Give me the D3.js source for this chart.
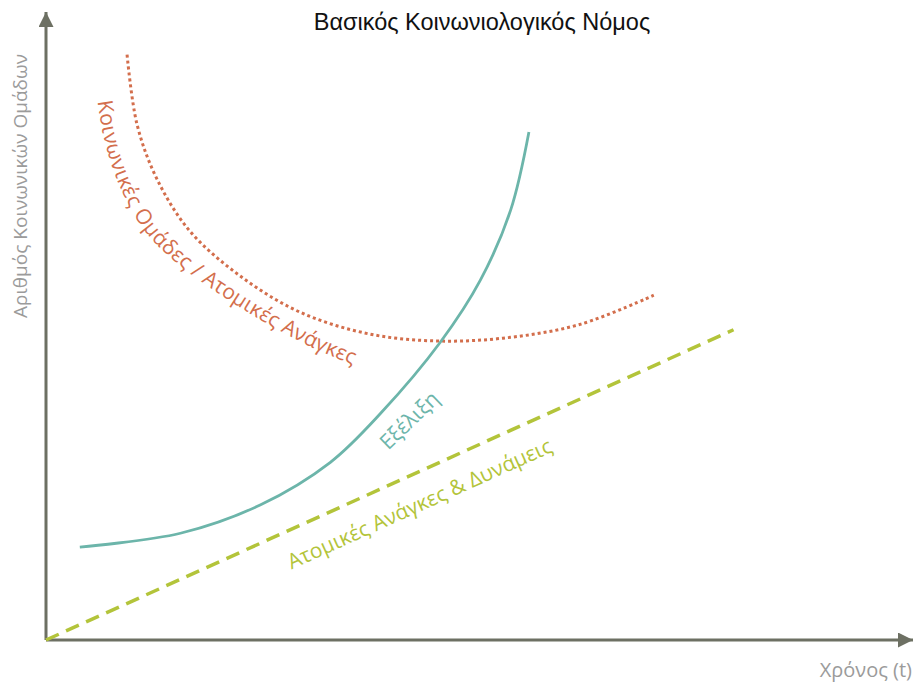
<!DOCTYPE html>
<html>
<head>
<meta charset="utf-8">
<script src="https://cdn.jsdelivr.net/npm/d3@7"></script>
<style>
  body { margin: 0; background: #fff; }
  svg { display: block; }
  .lbl { font-family: "Open Sans", sans-serif; }
</style>
</head>
<body>
<div id="chart"></div>
<script>
// ---------------------------------------------
// DATA (arbitrary units, axes run 0..100)
// ---------------------------------------------
var titleText = "Βασικός Κοινωνιολογικός Νόμος";
var xAxisLabel = "Χρόνος (t)";
var yAxisLabel = "Αριθμός Κοινωνικών Ομάδων";

// social groups / individual needs (dotted)
var groupsLabel = "Κοινωνικές Ομάδες / Ατομικές Ανάγκες";
var groupsCurve = [
  [9.35, 93.2], [10.5, 82.1], [12.8, 73.4], [16.6, 65.1], [22.4, 57.96],
  [29.3, 52.2], [37.4, 48.7], [45.5, 47.6], [53.6, 48.2], [61.7, 50.3], [70.1, 54.9]
];
// where the label runs along the dotted curve
var groupsLabelPath = [
  [6.7, 86.8], [7.6, 79.6], [9.35, 72.5], [12.2, 65.6], [16.3, 60.2],
  [21.2, 55.4], [26.4, 51.0], [31.6, 47.3], [36.3, 44.6]
];

// evolution (solid)
var evolutionLabel = "Εξέλιξη";
var evolutionCurve = [
  [3.9, 14.8], [15.5, 17.0], [24.7, 21.5], [32.8, 28.3], [38.6, 36.1],
  [45.5, 47.45], [50.1, 57.3], [53.6, 68.5], [55.7, 80.9]
];
var evolutionLabelPos = [41.9, 35.0];

// individual needs & powers (dashed)
var needsLabel = "Ατομικές Ανάγκες & Δυνάμεις";
var needsLine = [[0, 0], [79.3, 49.4]];
var needsLabelPos = [43.1, 21.7];

// ---------------------------------------------
// SETUP
// ---------------------------------------------
var width = 915, height = 682;
var colors = {axis: "#6d7063", text: "#9b9b9b", groups: "#d36e4c", evolution: "#6cb5aa", needs: "#b3c43a"};

var svg = d3.select("#chart").append("svg")
    .attr("width", width)
    .attr("height", height);

var x = d3.scaleLinear().domain([0, 100]).range([46, 913]);
var y = d3.scaleLinear().domain([0, 100]).range([640, 12]);

var smooth = d3.line()
    .x(function(d) { return x(d[0]); })
    .y(function(d) { return y(d[1]); })
    .curve(d3.curveCatmullRom.alpha(0.5));

// arrow heads
var defs = svg.append("defs");
defs.append("marker")
    .attr("id", "arrow")
    .attr("viewBox", "0 0 10 10")
    .attr("refX", 10).attr("refY", 5)
    .attr("markerUnits", "userSpaceOnUse")
    .attr("markerWidth", 15).attr("markerHeight", 15)
    .attr("orient", "auto")
  .append("path")
    .attr("d", "M0,0 L10,5 L0,10 Z")
    .attr("fill", colors.axis);

// axes
svg.append("line")
    .attr("x1", x(0)).attr("y1", y(0))
    .attr("x2", x(0)).attr("y2", y(100))
    .attr("stroke", colors.axis).attr("stroke-width", 3)
    .attr("marker-end", "url(#arrow)");
svg.append("line")
    .attr("x1", x(0)).attr("y1", y(0))
    .attr("x2", x(100)).attr("y2", y(0))
    .attr("stroke", colors.axis).attr("stroke-width", 3)
    .attr("marker-end", "url(#arrow)");

// title + axis labels
svg.append("text")
    .attr("x", 482).attr("y", 30)
    .attr("text-anchor", "middle")
    .style("font-family", "'Liberation Sans', Arial, sans-serif")
    .style("font-size", "23.5px")
    .attr("fill", "#111")
    .text(titleText);

svg.append("text").attr("class", "lbl")
    .attr("transform", "translate(27,186) rotate(-90)")
    .attr("text-anchor", "middle")
    .style("font-size", "19px")
    .attr("fill", colors.text)
    .text(yAxisLabel);

svg.append("text").attr("class", "lbl")
    .attr("x", 912).attr("y", 677)
    .attr("text-anchor", "end")
    .style("font-size", "20px")
    .attr("fill", colors.text)
    .text(xAxisLabel);

// ---------------------------------------------
// SERIES
// ---------------------------------------------
svg.append("path")
    .datum(needsLine)
    .attr("d", d3.line().x(d => x(d[0])).y(d => y(d[1])))
    .attr("fill", "none")
    .attr("stroke", colors.needs)
    .attr("stroke-width", 3.5)
    .attr("stroke-dasharray", "14,8");

svg.append("path")
    .datum(groupsCurve)
    .attr("d", smooth)
    .attr("fill", "none")
    .attr("stroke", colors.groups)
    .attr("stroke-width", 3)
    .attr("stroke-dasharray", "3,3");

svg.append("path")
    .datum(evolutionCurve)
    .attr("d", smooth)
    .attr("fill", "none")
    .attr("stroke", colors.evolution)
    .attr("stroke-width", 2.8);

// ---------------------------------------------
// CURVE LABELS
// ---------------------------------------------
defs.append("path")
    .attr("id", "groups-label-path")
    .attr("d", smooth(groupsLabelPath));

svg.append("text").attr("class", "lbl")
    .attr("dy", "0.35em")
    .style("font-size", "21px")
    .attr("fill", colors.groups)
  .append("textPath")
    .attr("href", "#groups-label-path")
    .attr("startOffset", "50%")
    .attr("text-anchor", "middle")
    .text(groupsLabel);

// angle of the dashed line on screen
var needsAngle = Math.atan2(y(needsLine[1][1]) - y(needsLine[0][1]), x(needsLine[1][0]) - x(needsLine[0][0])) * 180 / Math.PI;

svg.append("text").attr("class", "lbl")
    .attr("transform", "translate(" + x(needsLabelPos[0]) + "," + y(needsLabelPos[1]) + ") rotate(" + needsAngle + ")")
    .attr("text-anchor", "middle")
    .attr("dy", "0.35em")
    .style("font-size", "21px")
    .attr("fill", colors.needs)
    .text(needsLabel);

svg.append("text").attr("class", "lbl")
    .attr("transform", "translate(" + x(evolutionLabelPos[0]) + "," + y(evolutionLabelPos[1]) + ") rotate(-44)")
    .attr("text-anchor", "middle")
    .attr("dy", "0.35em")
    .style("font-size", "21px")
    .attr("fill", colors.evolution)
    .text(evolutionLabel);
</script>
</body>
</html>
